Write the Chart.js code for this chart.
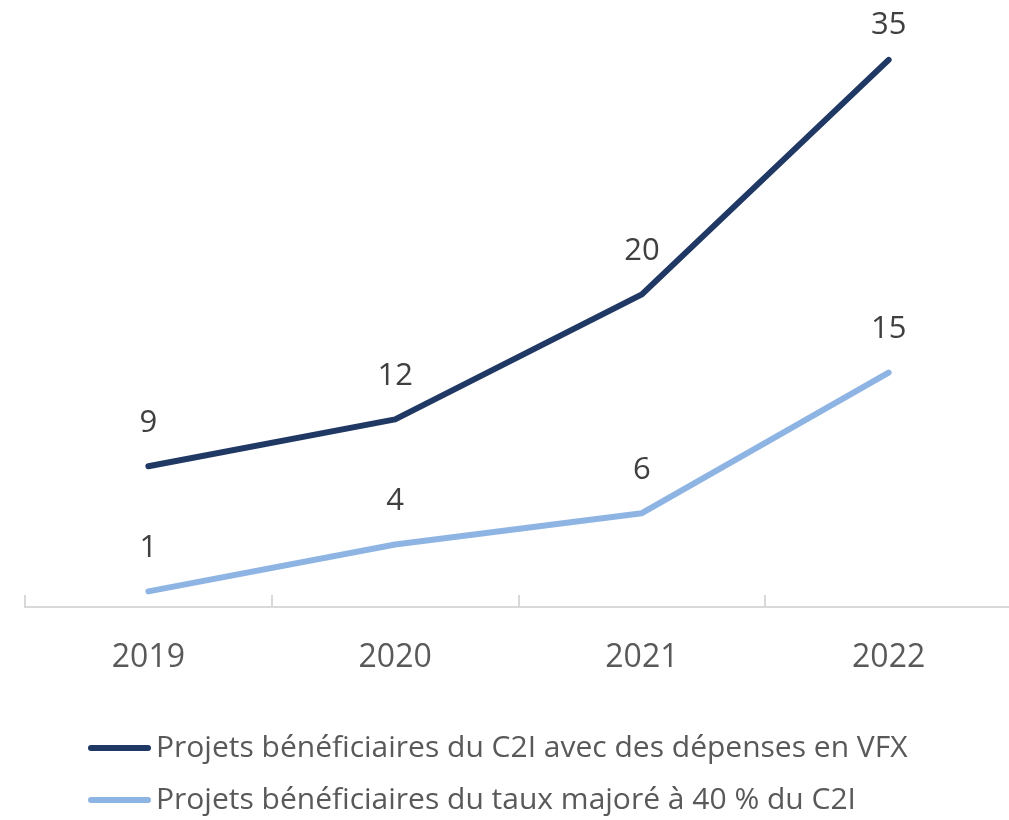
<!DOCTYPE html>
<html>
<head>
<meta charset="utf-8">
<script src="https://cdn.jsdelivr.net/npm/chart.js@4"></script>
<style>
    body { margin: 0; background: #fff; overflow: hidden; }
    #wrap { position: relative; width: 1012px; height: 820px; }
</style>
</head>
<body>
<div id="wrap"><canvas id="chart"></canvas></div>
<script>
const years = ['2019', '2020', '2021', '2022'];
const vfxProjects = [9, 12, 20, 35];
const boostedRateProjects = [1, 4, 6, 15];
const seriesLabels = [
    'Projets bénéficiaires du C2I avec des dépenses en VFX',
    'Projets bénéficiaires du taux majoré à 40 % du C2I'
];

const FONT = "'Open Sans', sans-serif";

// values written above each point (kept inside the canvas at the top)
const pointLabels = {
    id: 'pointLabels',
    afterDatasetsDraw(chart) {
        const ctx = chart.ctx;
        ctx.save();
        ctx.font = '31px ' + FONT;
        ctx.fillStyle = '#404040';
        ctx.textAlign = 'center';
        ctx.textBaseline = 'middle';
        chart.data.datasets.forEach((ds, i) => {
            chart.getDatasetMeta(i).data.forEach((pt, j) => {
                const y = Math.max(pt.y - 43, 25);
                ctx.fillText(String(ds.data[j]), pt.x, y);
            });
        });
        ctx.restore();
    }
};

// small tick marks pointing up from the axis, between categories
const axisTicks = {
    id: 'axisTicks',
    afterDraw(chart) {
        const x = chart.scales.x;
        const ctx = chart.ctx;
        ctx.save();
        ctx.strokeStyle = '#d9d9d9';
        ctx.lineWidth = 2;
        for (let i = 0; i <= years.length; i++) {
            const px = Math.round(x.getPixelForValue(i - 0.5));
            ctx.beginPath();
            ctx.moveTo(px, x.top);
            ctx.lineTo(px, x.top - 12);
            ctx.stroke();
        }
        ctx.restore();
    }
};

// legend drawn as two left-aligned rows
const legendRows = {
    id: 'legendRows',
    afterDraw(chart) {
        const ctx = chart.ctx;
        ctx.save();
        ctx.font = '30px ' + FONT;
        ctx.textBaseline = 'middle';
        chart.data.datasets.forEach((ds, i) => {
            const y = 748 + i * 52;
            ctx.strokeStyle = ds.borderColor;
            ctx.lineWidth = 6;
            ctx.lineCap = 'round';
            ctx.beginPath();
            ctx.moveTo(91, y);
            ctx.lineTo(148, y);
            ctx.stroke();
            ctx.fillStyle = '#595959';
            ctx.fillText(ds.label, 156, y);
        });
        ctx.restore();
    }
};

new Chart(document.getElementById('chart'), {
    type: 'line',
    data: {
        labels: years,
        datasets: [
            {
                label: seriesLabels[0],
                data: vfxProjects,
                borderColor: '#1f3864',
                borderWidth: 6,
                borderCapStyle: 'round',
                borderJoinStyle: 'round',
                pointRadius: 0,
                tension: 0
            },
            {
                label: seriesLabels[1],
                data: boostedRateProjects,
                borderColor: '#8eb4e3',
                borderWidth: 6,
                borderCapStyle: 'round',
                borderJoinStyle: 'round',
                pointRadius: 0,
                tension: 0
            }
        ]
    },
    options: {
        responsive: true,
        maintainAspectRatio: false,
        animation: false,
        layout: { padding: { top: 13, left: 25, right: 0, bottom: 0 } },
        plugins: {
            legend: { display: false },
            tooltip: { enabled: false }
        },
        scales: {
            x: {
                offset: true,
                grid: { drawOnChartArea: false, drawTicks: false },
                border: { display: true, color: '#d9d9d9', width: 2 },
                ticks: {
                    padding: 32,
                    color: '#595959',
                    font: { family: FONT, size: 32 }
                },
                afterFit(scale) { scale.height = 213; }
            },
            y: {
                display: false,
                min: 0,
                max: 38
            }
        }
    },
    plugins: [pointLabels, axisTicks, legendRows]
});
</script>
</body>
</html>
